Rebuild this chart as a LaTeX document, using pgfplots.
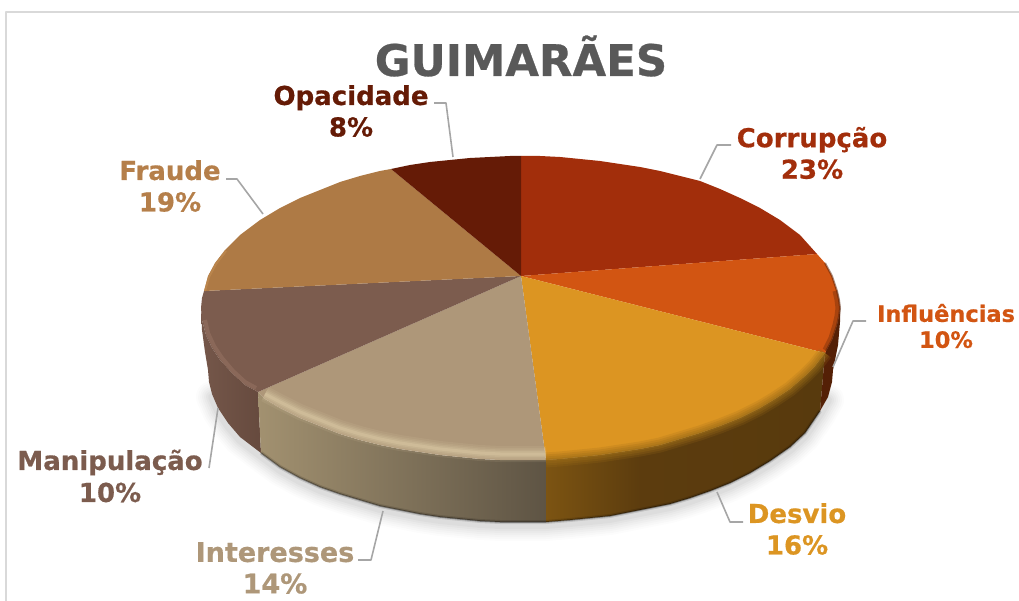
\documentclass[border=0pt]{standalone}
\usepackage{pgfplots}
\pgfplotsset{compat=1.18}
\usepackage{fontspec}
\setmainfont{DejaVu Sans}[BoldFont={DejaVu Sans Bold},BoldFeatures={FakeBold=0.6}]
\definecolor{cCor}{HTML}{A22E0B}
\definecolor{cInf}{HTML}{D25512}
\definecolor{cDes}{HTML}{DC9522}
\definecolor{cInt}{HTML}{AE9779}
\definecolor{cMan}{HTML}{7C5C4E}
\definecolor{cFra}{HTML}{AE7A45}
\definecolor{cOpa}{HTML}{651B06}
\definecolor{lFra}{HTML}{B57F4A}
\definecolor{lead}{HTML}{A6A6A6}
\definecolor{frameC}{HTML}{D9D9D9}
\definecolor{titleC}{HTML}{595959}
\definecolor{bIntA}{HTML}{E4D2AC}
\definecolor{bDes}{HTML}{9C6C18}
\definecolor{bMan}{HTML}{8E6C5C}
\definecolor{bInf}{HTML}{5A2208}
\definecolor{bFra}{HTML}{C08A50}
\definecolor{wIntL}{HTML}{A29170}
\definecolor{wIntM}{HTML}{807258}
\definecolor{wIntR}{HTML}{5E5444}
\definecolor{wDesL}{HTML}{7C5412}
\definecolor{wDesM}{HTML}{5C3C0E}
\definecolor{wDesR}{HTML}{583A0D}
\definecolor{wInf}{HTML}{542006}
\definecolor{wManL}{HTML}{75574A}
\definecolor{wManR}{HTML}{664A3E}
\pgfdeclarehorizontalshading{desw}{100bp}{color(0bp)=(wDesL); color(25bp)=(wDesL); color(42bp)=(wDesM); color(75bp)=(wDesR); color(100bp)=(wDesR)}
\pgfplotstableread{
x y
212 397
218 411
228 426
240 440
261 456
280 470
300 481
320 490
340 497
360 503
380 509
400 513
420 517
440 520
460 522
480 524
500 525
520 525
546 525
570 523
590 521
610 519
630 515
650 511
670 507
690 501
710 494
730 486
750 476
770 464
790 450
805 436
820 414
828 400
}\shadowcurve
\pgfplotstableread{
x y
261 453
280 467
300 478
320 487
340 494
360 500
380 506
400 510
420 514
440 517
460 519
480 521
500 522
520 522
546 522
570 520
590 518
610 516
630 512
650 508
670 504
690 498
710 491
730 483
750 473
770 461
790 447
805 433
820 411
}\footcurve
\pgfplotstableread{
x y
546 454
520 454
500 454
480 453
460 451
440 449
420 446
400 443
380 439
360 434
340 428
320 420
300 412
280 402
265 394
}\intbevel
\pgfplotstableread{
x y
825 353
815 366
805 376
790 389
775 399
760 408
740 418
720 426
700 433
680 439
660 445
640 449
620 452
600 455
580 457
560 459
546 460
}\desbevel
\newcommand{\lab}[5]{\node[text=#2,align=center,inner sep=0pt,font=\fontsize{#4}{#5}\selectfont\bfseries] at (axis cs:#1) {#3};}
\begin{document}
\begin{tikzpicture}[x=1pt,y=1pt]
\path[use as bounding box] (0,0) rectangle (1019pt,601pt);
\begin{axis}[at={(0,0)},anchor=south west,scale only axis,width=1019pt,height=601pt,
  xmin=0,xmax=1019,ymin=0,ymax=601,y dir=reverse,hide axis,clip=false,no markers,
  every axis plot/.append style={line join=round}]
% frame
\addplot[frameC,line width=1.2pt] coordinates {(6,601)(6,12)(1019,12)};
% soft shadow
\addplot[black,opacity=.012,line width=32pt,line cap=round] table {\shadowcurve};
\addplot[black,opacity=.014,line width=28pt,line cap=round] table {\shadowcurve};
\addplot[black,opacity=.016,line width=24pt,line cap=round] table {\shadowcurve};
\addplot[black,opacity=.018,line width=20pt,line cap=round] table {\shadowcurve};
\addplot[black,opacity=.02,line width=16pt,line cap=round] table {\shadowcurve};
\addplot[black,opacity=.025,line width=12pt,line cap=round] table {\shadowcurve};
\addplot[black,opacity=.03,line width=8pt,line cap=round] table {\shadowcurve};
% walls
\addplot[draw=none,left color=wManL,right color=wManR] coordinates {(258,392)(245,385)(232,373)(220,360)(212,348)(206,335)(202,320)(201,308)(202,330)(205,352)(208,370)(209,382)(212,394)(218,408)(228,423)(240,437)(261,453)} --cycle;
\addplot[draw=none,left color=wIntL,middle color=wIntM,right color=wIntR] coordinates {(546,460)(520,460)(500,460)(480,459)(460,457)(440,455)(420,452)(400,449)(380,445)(360,440)(340,434)(320,426)(300,418)(280,408)(265,399)(258,392)(261,453)(280,467)(300,478)(320,487)(340,494)(360,500)(380,506)(400,510)(420,514)(440,517)(460,519)(480,521)(500,522)(520,522)(546,522)} --cycle;
\addplot[draw=none,shade,shading=desw] coordinates {(825,353)(815,366)(805,376)(790,389)(775,399)(760,408)(740,418)(720,426)(700,433)(680,439)(660,445)(640,449)(620,452)(600,455)(580,457)(560,459)(546,460)(546,522)(570,520)(590,518)(610,516)(630,512)(650,508)(670,504)(690,498)(710,491)(730,483)(750,473)(770,461)(790,447)(805,433)(820,411)} --cycle;
\addplot[draw=none,fill=wInf] coordinates {(825,353)(832,340)(837,325)(839,316)(840,308)(840,322)(838,345)(833,370)(832,382)(828,397)(820,411)} --cycle;
% dark foot of the wall
\addplot[black,opacity=.12,line width=4pt] table {\footcurve};
\addplot[black,opacity=.35,line width=1.5pt] table {\footcurve};
% top faces
\addplot[draw=none,fill=cCor] coordinates {(521,276)(521,156)(540,156)(560,157)(580,159)(600,161)(620,164)(640,167)(660,171)(680,176)(700,181)(720,189)(740,198)(760,208)(780,220)(800,235)(817,254)} --cycle;
\addplot[draw=none,fill=cInf] coordinates {(521,276)(817,254)(825,263)(832,276)(837,291)(839,300)(840,308)(839,316)(837,325)(832,340)(825,353)} --cycle;
\addplot[draw=none,fill=cDes] coordinates {(521,276)(825,353)(815,366)(805,376)(790,389)(775,399)(760,408)(740,418)(720,426)(700,433)(680,439)(660,445)(640,449)(620,452)(600,455)(580,457)(560,459)(546,460)} --cycle;
\addplot[draw=none,fill=cInt] coordinates {(521,276)(546,460)(520,460)(500,460)(480,459)(460,457)(440,455)(420,452)(400,449)(380,445)(360,440)(340,434)(320,426)(300,418)(280,408)(265,399)(258,392)} --cycle;
\addplot[draw=none,fill=cMan] coordinates {(521,276)(258,392)(245,385)(232,373)(220,360)(212,348)(206,335)(202,320)(201,308)(202,298)(204,291)} --cycle;
\addplot[draw=none,fill=cFra] coordinates {(521,276)(204,291)(208,276)(215,263)(225,250)(240,235)(260,220)(280,208)(300,198)(320,190)(340,182)(360,176)(380,171)(391,169)} --cycle;
\addplot[draw=none,fill=cOpa] coordinates {(521,276)(391,169)(410,165)(430,162)(450,160)(470,158)(490,157)(510,156)(521,156)} --cycle;
% bevels
\addplot[bIntA,opacity=.10,line width=16pt] table {\intbevel};
\addplot[bIntA,opacity=.12,line width=12pt] table {\intbevel};
\addplot[bIntA,opacity=.15,line width=9pt] table {\intbevel};
\addplot[bIntA,opacity=.2,line width=6pt] table {\intbevel};
\addplot[bIntA,opacity=.3,line width=3pt] table {\intbevel};
\addplot[bDes,opacity=.2,line width=15pt] table {\desbevel};
\addplot[bDes,opacity=.25,line width=11pt] table {\desbevel};
\addplot[bDes,opacity=.3,line width=7pt] table {\desbevel};
\addplot[bDes,opacity=.4,line width=3pt] table {\desbevel};
\addplot[bMan,opacity=.8,line width=4pt] coordinates {(256,388)(245,382)(233,371)(222,358)(214,346)(208,333)(205,320)};
\addplot[bInf,opacity=.35,line width=5pt] coordinates {(825,350)(831,338)(835,325)(837,316)(838,308)(837,300)(835,291)};
\addplot[bInf,opacity=.5,line width=2pt] coordinates {(826,351)(832,340)(837,325)(839,316)(840,308)(839,300)(837,291)(832,276)(825,263)};
\addplot[bFra,opacity=.7,line width=2pt] coordinates {(205,291)(209,277)(216,264)(226,251)};
% leaders
\addplot[lead,line width=1.6pt] coordinates {(731,145)(717,145)(700,179)};
\addplot[lead,line width=1.6pt] coordinates {(866,321)(853,321)(833,367)};
\addplot[lead,line width=1.6pt] coordinates {(743,522)(730,522)(717,492)};
\addplot[lead,line width=1.6pt] coordinates {(358,560)(371,560)(383,511)};
\addplot[lead,line width=1.6pt] coordinates {(209,468)(218,408)};
\addplot[lead,line width=1.6pt] coordinates {(226,179)(237,179)(263,214)};
\addplot[lead,line width=1.6pt] coordinates {(434,103)(446,103)(453,157)};
% texts
\node[text=titleC,inner sep=0pt,font=\fontsize{43.5}{43}\selectfont\bfseries] at (axis cs:521,56) {GUIMARÃES};
\lab{812,153}{cCor}{Corrupção\\23\%}{26}{31.5}
\lab{946,326}{cInf}{Influências\\10\%}{22.5}{26}
\lab{797,529}{cDes}{Desvio\\16\%}{26}{31.5}
\lab{275,568}{cInt}{Interesses\\14\%}{27}{31.5}
\lab{110,476}{cMan}{Manipulação\\10\%}{26}{32}
\lab{170,186}{lFra}{Fraude\\19\%}{26}{31.5}
\lab{351,111}{cOpa}{Opacidade\\8\%}{26}{31.5}
\end{axis}
\end{tikzpicture}
\end{document}
